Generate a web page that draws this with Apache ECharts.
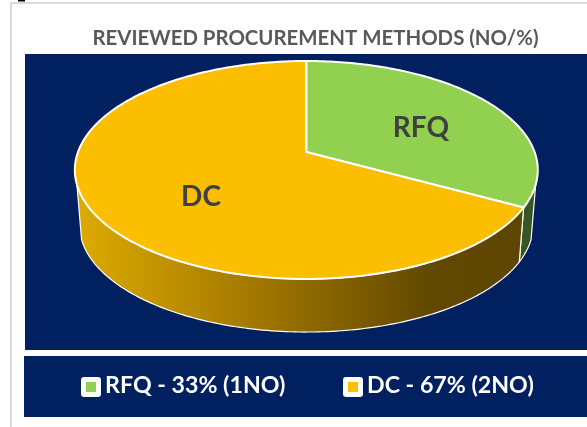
<!DOCTYPE html>
<html><head><meta charset="utf-8">
<style>html,body{margin:0;padding:0;background:#fff}#c{width:587px;height:427px}</style>
<script src="https://cdn.jsdelivr.net/npm/echarts@6/dist/echarts.min.js"></script>
</head><body><div id="c"></div>
<script>
const titleText = 'REVIEWED PROCUREMENT METHODS (NO/%)';
const categories = ['RFQ', 'DC'];
const percents = [33, 67];
const counts = [1, 2];

const topColors = ['#92D050', '#FCBE00'];
const legendColors = ['#92D050', '#FFC000'];
const FONT = 'Lato, "Noto Sans", sans-serif';
const geo = {cx:306.3, cy:152, A:228.3, B:106, k:0.165};
const low = {cx:306.3, cy:207.6, A:223.7, B:103.9, k:0.165};
const WALL_FROM = 107, WALL_TO = 253;
const labelPos = [[421,128],[201,197]];
const legendX = [81, 343];
const total = percents.reduce((a,b)=>a+b,0);

function pt(g, deg){
  const r = deg*Math.PI/180, e = Math.sin(r), s = -Math.cos(r), w = 1-g.k*s;
  return [g.cx+g.A*e/w, g.cy+g.B*s/w];
}
function arc(g, a, b){
  const out = [], n = Math.max(2, Math.ceil(Math.abs(b-a)));
  for(let i=0;i<=n;i++) out.push(pt(g, a+(b-a)*i/n));
  return out;
}
const wallFill = [
  {type:'linear',x:260,y:0,x2:520,y2:0,global:true,colorStops:[{offset:0,color:'#375623'},{offset:1,color:'#375623'}]},
  {type:'linear',x:80,y:0,x2:520,y2:0,global:true,colorStops:[
    {offset:0,color:'#dcaa00'},{offset:0.41,color:'#a07600'},{offset:0.8,color:'#614800'},{offset:1,color:'#5f4600'}]}
];

function renderItem(params, api){
  const i = params.dataIndex;
  let start = 0;
  for(let j=0;j<i;j++) start += percents[j];
  const a0 = start/total*360, a1 = (start+api.value(1))/total*360;
  const children = [];
  const wa = Math.max(a0, WALL_FROM), wb = Math.min(a1, WALL_TO);
  if(wb>wa){
    children.push({type:'polygon',shape:{points:arc(geo,wa,wb).concat(arc(low,wb,wa))},
      style:{fill:wallFill[i],stroke:'#fff',lineWidth:1.2,lineJoin:'round'}});
  }
  children.push({type:'polygon',shape:{points:[[geo.cx,geo.cy]].concat(arc(geo,a0,a1))},
    style:{fill:topColors[i],stroke:'#fff',lineWidth:2,lineJoin:'round'}});
  children.push({type:'text',x:labelPos[i][0],y:labelPos[i][1],
    style:{text:categories[i],fill:'#404040',font:'bold 28px '+FONT,align:'center',verticalAlign:'middle'}});
  return {type:'group',children};
}

const legendGraphics = categories.flatMap((name,i)=>[
  {type:'rect',shape:{x:legendX[i],y:377,width:20,height:20,r:3},style:{fill:'#fff'},z:5},
  {type:'rect',shape:{x:legendX[i]+5,y:382,width:10,height:10},style:{fill:legendColors[i]},z:6},
  {type:'text',x:legendX[i]+24,y:386,z:6,style:{text:name+' - '+percents[i]+'% ('+counts[i]+'NO)',fill:'#fff',font:'bold 23.2px '+FONT,verticalAlign:'middle'}}
]);

const chart = echarts.init(document.getElementById('c'),null,{renderer:'canvas'});
chart.setOption({
  animation:false,
  backgroundColor:'#fff',
  title:{text:titleText,left:310.5,top:33,textAlign:'center',textVerticalAlign:'middle',
    textStyle:{color:'#595959',fontFamily:FONT,fontWeight:'bold',fontSize:20.4}},
  graphic:[
    {type:'rect',z:-10,shape:{x:11,y:3,width:590,height:440},style:{fill:'#fff',stroke:'#d9d9d9',lineWidth:2}},
    {type:'rect',z:-9,shape:{x:18,y:0,width:7,height:1.5},style:{fill:'#000'}},
    {type:'rect',z:-5,shape:{x:25,y:54,width:562,height:296},style:{fill:'#002060'}},
    {type:'rect',z:-5,shape:{x:24,y:356,width:563,height:61},style:{fill:'#002060'}},
    ...legendGraphics
  ],
  series:[{type:'custom',coordinateSystem:'none',renderItem,
    data:categories.map((n,i)=>[i,percents[i]]),z:3}]
});
</script></body></html>
